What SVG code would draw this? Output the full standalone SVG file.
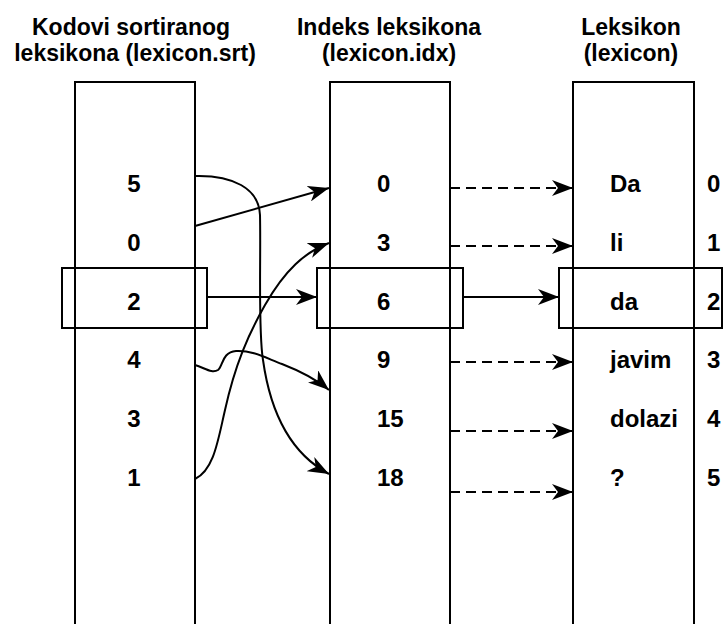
<svg xmlns="http://www.w3.org/2000/svg" width="723" height="624" viewBox="0 0 723 624">
  <style>
    .hdr { font-family: "Liberation Sans", Arial, sans-serif; font-weight: bold; font-size: 23px; fill: #000; text-anchor: middle; }
    .cell { font-family: "Liberation Sans", Arial, sans-serif; font-weight: bold; font-size: 24px; fill: #000; }
    .mid { text-anchor: middle; }
    .col { fill: none; stroke: #000; stroke-width: 2; }
    .box { fill: none; stroke: #000; stroke-width: 2; }
    .link { fill: none; stroke: #000; stroke-width: 2; marker-end: url(#head); }
    .dash { stroke-dasharray: 10 6; }
  </style>
  <defs>
    <marker id="head" markerUnits="userSpaceOnUse" markerWidth="22" markerHeight="16" refX="21" refY="8" orient="auto">
      <path d="M0,0 L21,8 L0,16 L6,8 Z" fill="#000"/>
    </marker>
  </defs>
  <rect width="723" height="624" fill="#fff"/>

  <!-- sorted lexicon codes -->
  <g id="srt">
    <text class="hdr" x="131" y="35">Kodovi sortiranog</text>
    <text class="hdr" x="135" y="61">leksikona (lexicon.srt)</text>
    <rect class="col" x="75" y="82" width="120" height="560"/>
    <rect class="box" x="62" y="268" width="145" height="60"/>
    <text class="cell mid" x="134" y="192">5</text>
    <text class="cell mid" x="134" y="251">0</text>
    <text class="cell mid" x="134" y="310">2</text>
    <text class="cell mid" x="134" y="368">4</text>
    <text class="cell mid" x="134" y="427">3</text>
    <text class="cell mid" x="134" y="486">1</text>
  </g>

  <!-- lexicon index -->
  <g id="idx">
    <text class="hdr" x="389" y="35">Indeks leksikona</text>
    <text class="hdr" x="389" y="61">(lexicon.idx)</text>
    <rect class="col" x="330" y="82" width="120" height="560"/>
    <rect class="box" x="317" y="268" width="146" height="60"/>
    <text class="cell" x="377" y="192">0</text>
    <text class="cell" x="377" y="251">3</text>
    <text class="cell" x="377" y="310">6</text>
    <text class="cell" x="377" y="368">9</text>
    <text class="cell" x="377" y="427">15</text>
    <text class="cell" x="377" y="486">18</text>
  </g>

  <!-- lexicon -->
  <g id="lex">
    <text class="hdr" x="631" y="35">Leksikon</text>
    <text class="hdr" x="631" y="61">(lexicon)</text>
    <rect class="col" x="573" y="82" width="121" height="560"/>
    <rect class="box" x="559" y="268" width="163" height="60"/>
    <text class="cell" x="610" y="192">Da</text>
    <text class="cell" x="610" y="251">li</text>
    <text class="cell" x="610" y="310">da</text>
    <text class="cell" x="610" y="368">javim</text>
    <text class="cell" x="610" y="427">dolazi</text>
    <text class="cell" x="610" y="486">?</text>
    <text class="cell" x="707" y="192">0</text>
    <text class="cell" x="707" y="251">1</text>
    <text class="cell" x="707" y="310">2</text>
    <text class="cell" x="707" y="368">3</text>
    <text class="cell" x="707" y="427">4</text>
    <text class="cell" x="707" y="486">5</text>
  </g>

  <g id="connectors">
    <!-- codes to index entries -->
    <path class="link" d="M195,176 C232,175 259,188 260,215 C261,260 258,330 263,360 C270,410 288,452 329,474"/>
    <path class="link" d="M195,226 L329,188"/>
    <path class="link" d="M207,297 L317,297"/>
    <path class="link" d="M195,365 C205,368 212,374 218,370 C223,366 222,352 236,351 C252,350 266,358 282,364 C300,371 316,379 329,390"/>
    <path class="link" d="M195,479 C214,470 218,440 225,410 C235,365 248,335 265,305 C285,270 305,252 329,243"/>
    <!-- index entries to words -->
    <path class="link dash" d="M450,188 L573,188"/>
    <path class="link dash" d="M450,246 L573,246"/>
    <path class="link" d="M463,297 L559,297"/>
    <path class="link dash" d="M450,362 L573,362"/>
    <path class="link dash" d="M450,431 L573,431"/>
    <path class="link dash" d="M450,492 L573,492"/>
  </g>
</svg>
